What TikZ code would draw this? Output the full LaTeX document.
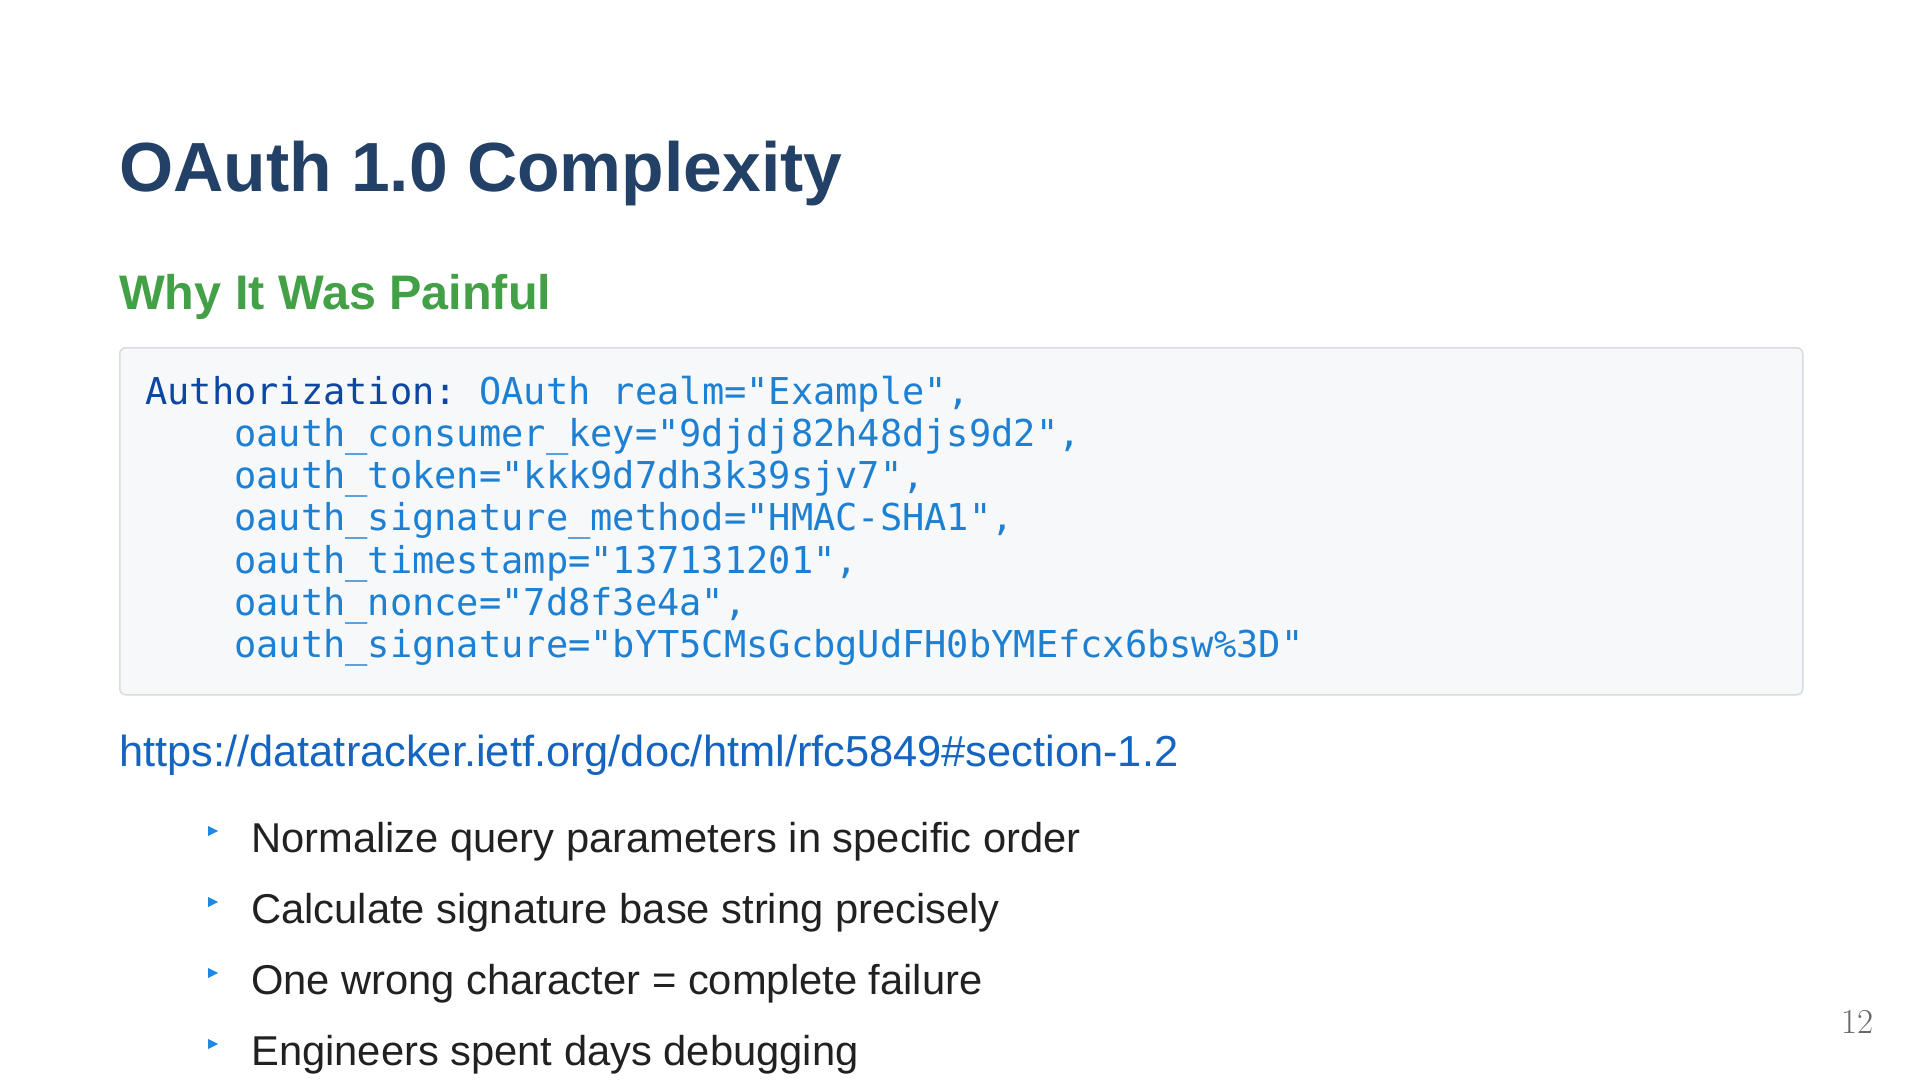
\documentclass[tikz,border=0pt]{standalone}
\usepackage{fontspec}
\setmainfont{Liberation Sans}
\setmonofont{DejaVu Sans Mono}
\newfontfamily\pnumfont{Latin Modern Roman}
\usetikzlibrary{calc, shapes.geometric, positioning}
\definecolor{titleblue}{RGB}{35,64,102}
\definecolor{subgreen}{RGB}{67,160,71}
\definecolor{codebg}{RGB}{246,248,250}
\definecolor{codeframe}{RGB}{214,220,226}
\definecolor{codekey}{RGB}{13,71,161}
\definecolor{codeval}{RGB}{30,128,210}
\definecolor{linkblue}{RGB}{21,101,192}
\definecolor{tipblue}{RGB}{30,136,229}
\definecolor{bodytext}{RGB}{33,33,33}
\definecolor{pnumgray}{RGB}{105,105,105}

\begin{document}
\begin{tikzpicture}[x=1pt, y=-1pt,
	txt/.style={anchor=base west, inner sep=0pt},
	codeln/.style={txt, text=codeval, font=\ttfamily\frenchspacing\fontsize{37}{44}\selectfont},
	tri/.style={isosceles triangle, isosceles triangle stretches, fill=tipblue, inner sep=0pt, minimum width=10, minimum height=10, anchor=west}]
		\useasboundingbox[fill=white] (0,0) rectangle (1920,1080);
		% heading
		\node[txt, text=titleblue, font=\fontsize{69.6}{80}\selectfont\bfseries] (title) at (119,191) {OAuth 1.0 Complexity};
		\node[txt, text=subgreen, font=\fontsize{48.5}{56}\selectfont\bfseries] (sub) at (119,309) {Why It Was Painful};
		% code block
		\node[draw=codeframe, fill=codebg, line width=1.5pt, rounded corners=6pt, minimum width=1683, minimum height=347, anchor=north west] (code) at (119,347) {};
		\node[codeln] (l1) at (145,404) {{\color{codekey}Authorization:} OAuth realm="Example",};
		\foreach \y /\nm/\line in {
			446/l2/{oauth\_consumer\_key="9djdj82h48djs9d2",},
			488/l3/{oauth\_token="kkk9d7dh3k39sjv7",},
			530/l4/{oauth\_signature\_method="HMAC-SHA1",},
			573/l5/{oauth\_timestamp="137131201",},
			615/l6/{oauth\_nonce="7d8f3e4a",},
			657/l7/{oauth\_signature="bYT5CMsGcbgUdFH0bYMEfcx6bsw\%3D"}
		 }{
			\node[codeln] (\nm) at (234,\y) {\line};
		 }
		\node[txt, text=linkblue, font=\fontsize{43.4}{50}\selectfont] (link) at (119,766) {https://datatracker.ietf.org/doc/html/rfc5849\#section-1.2};
		% bullets
		\foreach \y /\nm/\item in {
			852/1/{Normalize query parameters in specific order},
			923/2/{Calculate signature base string precisely},
			994/3/{One wrong character = complete failure},
			1065/4/{Engineers spent days debugging}
		 }{
			\node[tri] (b\nm) at (208,\y-21) {};
			\node[txt, text=bodytext, font=\fontsize{41.7}{50}\selectfont] (t\nm) at (251,\y) {\item};
		 }
		\node[anchor=base east, inner sep=0pt, text=pnumgray, font=\pnumfont\fontsize{35}{40}\selectfont] (pnum) at (1874,1033) {12};
\end{tikzpicture}
\end{document}
